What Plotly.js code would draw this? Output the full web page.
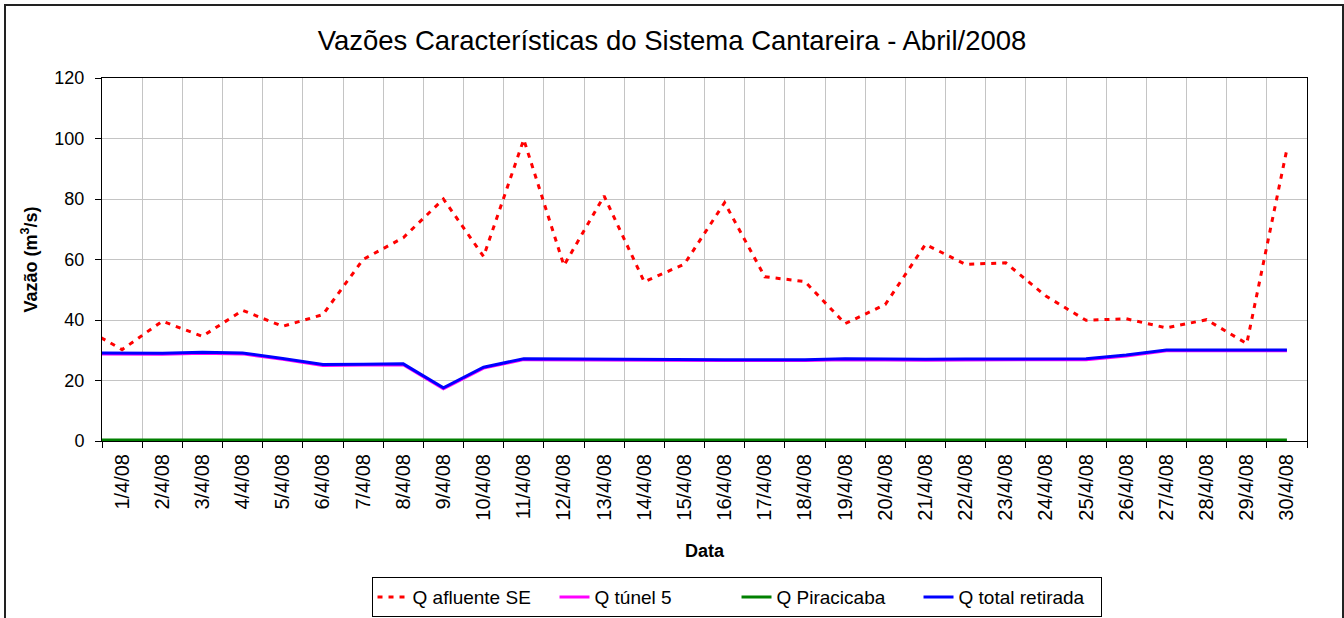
<!DOCTYPE html>
<html>
<head>
<meta charset="utf-8">
<script src="https://cdn.plot.ly/plotly-3.0.1.min.js"></script>
<style>
  html, body { margin: 0; padding: 0; background: #fff; }
  #wrap { position: relative; width: 1344px; height: 618px; overflow: hidden; }
  #chart { width: 1344px; height: 618px; }
  #frame { position: absolute; left: 4px; top: 4px; width: 1336px; height: 700px;
           border-left: 2px solid #222; border-top: 2px solid #222; border-right: 2px solid #222;
           pointer-events: none; }
</style>
</head>
<body>
<div id="wrap"><div id="chart"></div><div id="frame"></div></div>
<script>
// Day index (0 = 31/3/08, outside the visible range; 1..30 = April 2008)
const dias = [0,1,2,3,4,5,6,7,8,9,10,11,12,13,14,15,16,17,18,19,20,21,22,23,24,25,26,27,28,29,30];
const rotulos = ["31/3/08","1/4/08","2/4/08","3/4/08","4/4/08","5/4/08","6/4/08","7/4/08","8/4/08","9/4/08","10/4/08",
  "11/4/08","12/4/08","13/4/08","14/4/08","15/4/08","16/4/08","17/4/08","18/4/08","19/4/08","20/4/08",
  "21/4/08","22/4/08","23/4/08","24/4/08","25/4/08","26/4/08","27/4/08","28/4/08","29/4/08","30/4/08"];

const qAfluente = [37.8,30.2,39.6,34.6,43.2,37.9,41.8,60.0,67.2,80.0,61.0,99.7,58.0,81.0,52.6,58.5,78.8,54.3,52.7,38.8,45.1,65.0,58.4,58.9,47.9,39.9,40.4,37.4,40.1,32.2,96.5];
const qTunel5 = [28.8,28.8,28.7,29.0,28.8,27.0,25.0,25.1,25.2,17.3,24.1,26.9,26.8,26.8,26.7,26.6,26.6,26.6,26.6,26.9,26.7,26.7,26.8,26.8,26.8,26.9,28.1,29.8,29.8,29.8,29.8];
const qPiracicaba = [0.3,0.3,0.3,0.3,0.3,0.3,0.3,0.3,0.3,0.3,0.3,0.3,0.3,0.3,0.3,0.3,0.3,0.3,0.3,0.3,0.3,0.3,0.3,0.3,0.3,0.3,0.3,0.3,0.3,0.3,0.3];
const qTotal = [29.1,29.1,29.0,29.3,29.1,27.3,25.3,25.4,25.5,17.6,24.4,27.2,27.1,27.1,27.0,26.9,26.9,26.9,26.9,27.2,27.0,27.0,27.1,27.1,27.1,27.2,28.4,30.1,30.1,30.1,30.1];

const yTicks = [0,20,40,60,80,100,120];

const FONT = "Liberation Sans, Arial, sans-serif";

const labelVals = dias.slice(1);
const labelText = rotulos.slice(1);
const boundaries = [];
for (let i = 0; i <= labelVals.length; i++) boundaries.push(labelVals[0] - 0.5 + i);

const traces = [
  {x: dias, y: qAfluente, name: "Q afluente SE", type: "scatter", mode: "lines",
   line: {color: "#ff0000", width: 3, dash: "5px,6px"}},
  {x: dias, y: qTunel5, name: "Q túnel 5", type: "scatter", mode: "lines",
   line: {color: "#ff00ff", width: 3}},
  {x: dias, y: qPiracicaba, name: "Q Piracicaba", type: "scatter", mode: "lines",
   line: {color: "#008000", width: 3}},
  {x: dias, y: qTotal, name: "Q total retirada", type: "scatter", mode: "lines",
   line: {color: "#0000ff", width: 3}}
];

const layout = {
  width: 1344, height: 618,
  margin: {l: 102, r: 37, t: 78, b: 177},
  paper_bgcolor: "#ffffff", plot_bgcolor: "#ffffff",
  font: {family: FONT, size: 18, color: "#000"},
  title: {text: "Vazões Características do Sistema Cantareira - Abril/2008",
          font: {family: FONT, size: 27.5, color: "#000"},
          x: 0.5, xanchor: "center", y: 0.935, yanchor: "middle"},
  showlegend: true,
  legend: {orientation: "h", xref: "container", yref: "container",
           x: 0.548, xanchor: "center", y: 0.066, yanchor: "top",
           bordercolor: "#000", borderwidth: 1, bgcolor: "#fff",
           entrywidth: 137, entrywidthmode: "pixels",
           font: {family: FONT, size: 19, color: "#000"}, traceorder: "normal"},
  xaxis: {
    type: "linear", range: [boundaries[0], boundaries[boundaries.length - 1]],
    automargin: false,
    tickmode: "array", tickvals: labelVals, ticktext: labelText, tickangle: -90,
    ticks: "", showgrid: false, zeroline: false,
    showline: true, linecolor: "#000", linewidth: 1, mirror: true,
    tickfont: {family: FONT, size: 20, color: "#000"},
    ticklabelstandoff: 4,
    minor: {tickmode: "array", tickvals: boundaries, ticks: "outside", ticklen: 6,
            tickcolor: "#000", tickwidth: 1, showgrid: true, gridcolor: "#c4c4c4", gridwidth: 1},
    title: {text: "<b>Data</b>", font: {family: FONT, size: 18, color: "#000"}, standoff: 24}
  },
  yaxis: {
    range: [0, 120], tickmode: "array", tickvals: yTicks,
    automargin: false,
    ticks: "outside", ticklen: 6, tickcolor: "#000",
    ticklabelstandoff: 7,
    showgrid: true, gridcolor: "#c4c4c4", gridwidth: 1, zeroline: false,
    showline: true, linecolor: "#000", linewidth: 1, mirror: true,
    tickfont: {family: FONT, size: 18, color: "#000"},
    title: {text: "<b>Vazão (m<sup>3</sup>/s)</b>", font: {family: FONT, size: 18, color: "#000"}, standoff: 12}
  }
};

Plotly.newPlot("chart", traces, layout, {displayModeBar: false, staticPlot: true});
</script>
</body>
</html>
